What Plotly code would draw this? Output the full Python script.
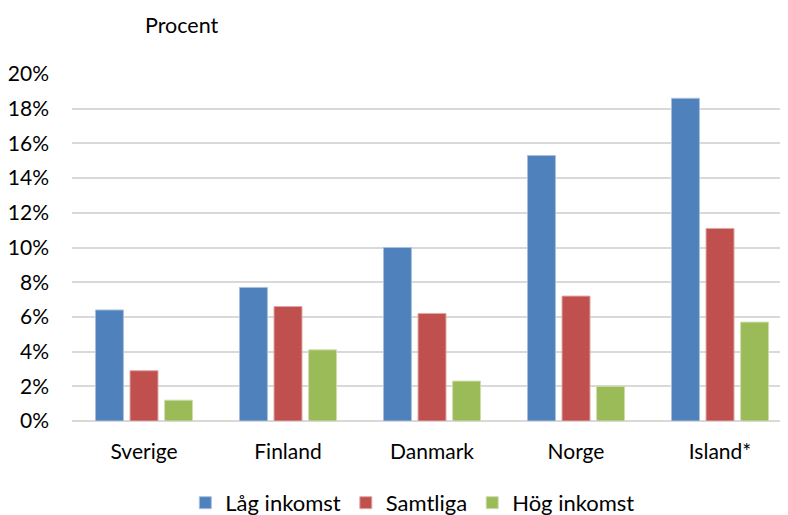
import plotly.graph_objects as go

categories = ["Sverige", "Finland", "Danmark", "Norge", "Island*"]
lag_inkomst = [6.4, 7.7, 10.0, 15.3, 18.6]
samtliga = [2.9, 6.6, 6.2, 7.2, 11.1]
hog_inkomst = [1.2, 4.1, 2.3, 2.0, 5.7]
series_names = ["Låg inkomst", "Samtliga", "Hög inkomst"]
colors = ["#4F81BD", "#C0504D", "#9BBB59"]
edge_colors = ["#A7C0DE", "#E0A8A6", "#CDDDAC"]
y_ticks = [0, 2, 4, 6, 8, 10, 12, 14, 16, 18, 20]
y_ticktext = [f"{v}%" for v in y_ticks]

FONT = "Lato"

fig = go.Figure()
for name, vals, c, ec in zip(series_names, [lag_inkomst, samtliga, hog_inkomst], colors, edge_colors):
    fig.add_trace(go.Bar(x=categories, y=vals, name=name,
                         marker=dict(color=c, line=dict(color=ec, width=1))))

# page body has an 8px margin, so the figure is 8px smaller and offset
fig.update_layout(
    width=780, height=507,
    margin=dict(l=64, r=0, t=66, b=94, autoexpand=False),
    plot_bgcolor="white", paper_bgcolor="white",
    barmode="group", bargap=0.28, bargroupgap=0.19,
    font=dict(family=FONT, size=21, color="#000000"),
    showlegend=True,
    legend=dict(orientation="h", x=0.476, xanchor="center", y=-0.236, yanchor="middle",
                font=dict(size=22), traceorder="normal", itemwidth=30),
    annotations=[dict(text="Procent", xref="paper", yref="paper",
                      x=(143 - 72) / 716, y=(421 - 25) / 347,
                      xanchor="left", yanchor="middle", showarrow=False,
                      font=dict(size=21.5))],
)
fig.update_yaxes(range=[0, 20], tickvals=y_ticks, ticktext=y_ticktext,
                 showgrid=True, gridcolor="#D9D9D9", gridwidth=1.5,
                 zeroline=True, zerolinecolor="#D9D9D9", zerolinewidth=1.5,
                 showline=False, ticklabelstandoff=22, tickfont=dict(size=21),
                 automargin=False)
fig.update_xaxes(range=[-0.5, 4.472], showgrid=False, showline=False,
                 ticklabelstandoff=16, tickfont=dict(size=21), automargin=False)

fig.write_html("out.html")
